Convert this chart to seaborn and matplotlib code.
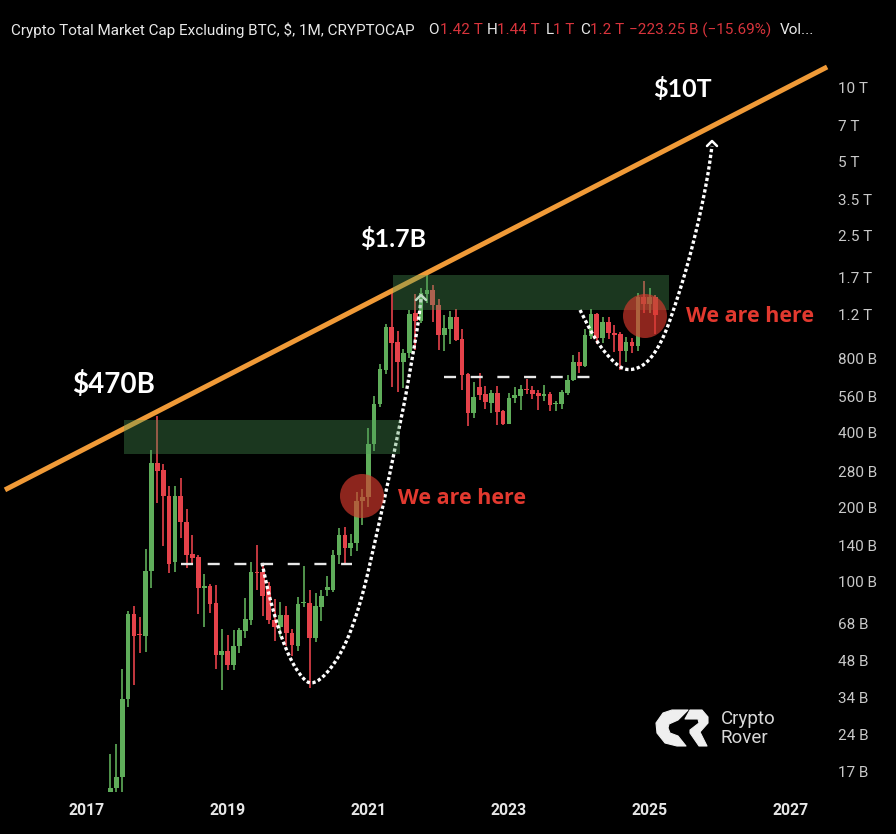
import numpy as np
import pandas as pd
import seaborn as sns
import matplotlib
matplotlib.use("Agg")
import matplotlib.pyplot as plt
from matplotlib.patches import Circle, Polygon
from matplotlib.transforms import Affine2D

# monthly candles, $ billions, month index 0 = Jan 2017
first_month = 4
opens = [14.05,14.6,16.2,33.4,74,61.3,60.3,110,302,282,222,120.5,222,175,129,126,94,96,82,50.5,52.4,46,55,63.1,70,109.3,109,95.7,70,65.8,73.4,61.9,55,81.7,81.7,59,79,92.8,92.5,128,154,137,142.7,211,220,359,522,720,1070,927,772,838,1215,1130,1455,1505,1315,990,1052,1180,957,688,482,615,572,530,577,490,433,553,563,603,595,577,562,572,522,524,577,651,776,745,987,1205,966,1120,1015,1000,860,935,897,1410,1330,1420]
highs = [20,22,44.2,76.3,79.7,71.7,135,340,467,298,243,243,262,196,154.5,128,107,97.7,96.8,64.1,60.8,63.7,64.7,85.6,119.5,141,118,100,85,82.7,79.7,64.3,86.4,115.7,92.5,90,92.5,105,134,165,166,156,231,237,418,565,757,1100,1486,1031,870,1254,1455,1533,1730,1590,1385,1195,1240,1262,1050,695,640,697,618,595,618,494,577,612,622,660,618,595,622,585,537,595,685,823,845,1052,1262,1215,1180,1180,1090,1025,975,970,1470,1640,1540,1440]
lows = [14.05,14.05,14.05,31,38.2,51.6,52,94,207.5,139,108,109,150,113.5,117,73.7,65.8,74.5,44.3,36.6,43.8,43.9,51.3,59,67,92.8,72.9,67.2,57.3,59.8,54.7,50,52.5,79,37,56.8,69.4,87.7,91,117.5,118,127,133,170,201,337,510,690,612,585,608,802,864,1108,1335,1120,864,856,917,940,597,426,460,542,497,482,429,429,433,527,494,576,548,494,537,490,490,497,567,649,697,735,957,917,925,957,848,720,772,842,860,1215,1215,1000]
closes = [14.6,16.2,33.6,74,60.3,60.6,110,303,281,222,117.5,222,174,128,125,94,96,81.4,50.5,52.4,46,54.9,63.5,70.7,109,107.9,87.7,70,65.8,73,61.9,55.4,81.4,82.7,59,79.7,87.7,95,128,154,137,143.5,212,220,360,522,722,1070,925,772,840,1208,1130,1465,1510,1310,990,1060,1180,948,685,482,560,570,533,577,486,433,555,567,600,597,575,562,572,519,530,583,653,776,745,992,1205,970,1120,1010,994,858,932,897,1420,1330,1410,1200]

year_ticks = [0,24,48,72,96,120]
year_labels = ["2017","2019","2021","2023","2025","2027"]
price_ticks = [10000,7000,5000,3500,2500,1700,1200,800,560,400,280,200,140,100,68,48,34,24,17]
price_labels = ["10 T","7 T","5 T","3.5 T","2.5 T","1.7 T","1.2 T","800 B","560 B","400 B","280 B","200 B","140 B","100 B","68 B","48 B","34 B","24 B","17 B"]

trend_x = [-14.0, 126.3]
trend_y = [235, 12050]
zone_a = dict(x=(6.3, 53.4), y=(327, 450))
zone_b = dict(x=(52.2, 99.3), y=(1254, 1730))
neck_a = dict(x=[16, 45.2], y=[118, 118])
neck_b = dict(x=[60.9, 85.8], y=[675, 675])

df = pd.DataFrame({"month": np.arange(len(opens)) + first_month, "open": opens, "high": highs, "low": lows, "close": closes})
df["up"] = df["close"] >= df["open"]

sns.set_theme(style="dark")
GREEN, RED = "#5fad5a", "#e5424a"
fig = plt.figure(figsize=(8.96, 8.34), dpi=100, facecolor="black")
ax = fig.add_axes([0, 0, 1, 1], facecolor="black")
ax.set_yscale("log")
ax.grid(False)
for s in ax.spines.values():
    s.set_visible(False)

# candles
cols = np.where(df["up"], GREEN, RED)
ax.vlines(df["month"], df["low"], df["high"], colors=cols, lw=1.2, zorder=2)
bot = df[["open", "close"]].min(axis=1)
top = df[["open", "close"]].max(axis=1)
ax.bar(df["month"], top - bot, bottom=bot, width=0.8, color=cols, lw=0, zorder=3)

# trend line, zones, necklines
sns.lineplot(x=trend_x, y=trend_y, color="#f09a37", lw=3.6, ax=ax, zorder=4, solid_capstyle="butt")
for z in (zone_a, zone_b):
    ax.fill_between(z["x"], z["y"][0], z["y"][1], color="#4c9a58", alpha=0.36, lw=0, zorder=6)
for n in (neck_a, neck_b):
    sns.lineplot(x=n["x"], y=n["y"], color="#e8e8e8", lw=1.7, ax=ax, zorder=7, linestyle=(0, (5.1, 6.2)))
ax.set_xlim(-14.846, 138.05)
ax.set_ylim(9.54, 22480)

ax.yaxis.tick_right()
ax.set_yticks(price_ticks, price_labels)
ax.minorticks_off()
ax.set_xticks(year_ticks, year_labels)
ax.tick_params(axis="y", length=0, pad=-41.8, labelsize=11, labelcolor="#c9c9c9")
ax.tick_params(axis="x", length=0, pad=-22, labelsize=11.3, labelcolor="#e6e6e6")
for t in ax.get_yticklabels():
    t.set_family("Roboto")
for t in ax.get_xticklabels():
    t.set_family("Roboto"); t.set_fontweight("bold")

# free-hand drawing in picture pixels
px = Affine2D().scale(1, -1).translate(0, 834)

def smooth(pts, n=3):
    p = np.array(pts, float)
    for _ in range(n):
        q = 0.75 * p[:-1] + 0.25 * p[1:]
        r = 0.25 * p[:-1] + 0.75 * p[1:]
        m = np.empty((2 * len(q), 2))
        m[0::2], m[1::2] = q, r
        p = np.vstack([p[0], m, p[-1]])
    return p

curve_a = [(262,563),(270,600),(283,643),(297,672),(313,688),(340,658),(360,607),(377,533),(390,473),(397,438),(405,400),(411,365),(418,325),(421,299)]
curve_b = [(580,310),(597,343),(617,366),(630,371),(647,364),(663,340),(677,300),(689,260),(700,215),(708,175),(712,146)]
for c in (curve_a, curve_b):
    s = smooth(c)
    ax.plot(s[:, 0], s[:, 1], transform=px, color="white", lw=2.4, ls=(0, (1.0, 0.75)), zorder=5, solid_capstyle="butt")
for tx, ty in ((421, 295), (712, 141)):
    ax.plot([tx-5, tx, tx+5], [ty+5, ty, ty+5], transform=px, color="white", lw=1.8, zorder=5)

for cx, cy in ((362, 496), (645, 316)):
    ax.add_patch(Circle((cx, cy), 22, transform=px, fc="#d83a2e", ec="none", alpha=0.65, zorder=8))

big = dict(transform=px, family="Lato", fontweight="bold", va="center", ha="left", zorder=9, color="white")
ax.text(72, 385, "$470B", fontsize=20, **big)
ax.text(360, 239, "$1.7B", fontsize=18, **big)
ax.text(653, 89, "$10T", fontsize=18, **big)
mid = dict(transform=px, family="Open Sans", fontweight="bold", va="center", ha="left", zorder=9, color="#e2392f", fontsize=15.5)
ax.text(398, 498, "We are here", **mid)
ax.text(686, 316, "We are here", **mid)

# header, one piece per colour
WHITE, HRED = "#e8e8e8", "#d8343c"
header = [(11,"Crypto Total Market Cap Excluding BTC, $, 1M, CRYPTOCAP",WHITE),(428,"O",WHITE),(440,"1.42 T",HRED),
          (487,"H",WHITE),(497,"1.44 T",HRED),(546,"L",WHITE),(553,"1 T",HRED),(580,"C",WHITE),(590,"1.2 T",HRED),
          (629,"\u2212223.25 B (\u221215.69%)",HRED),(780,"Vol...",WHITE)]
for x, s, c in header:
    ax.text(x, 30, s, transform=px, color=c, fontsize=11, family="Roboto", va="center", ha="left", zorder=9)

# logo
LOGO = "#efefef"
logo_c = [(688,710),(678,720),(669,724),(668,728),(670,733),(678,736),(686,746),(677,746),(665,743),(657,733),(656,723),(663,713),(672,710)]
logo_r = [(690,710),(702,710),(708,717),(708,723),(700,732),(707,746),(699,746),(690,733),(690,730),(699,723),(698,719),(692,719),(685,719)]
for shape in (logo_c, logo_r):
    ax.add_patch(Polygon(shape, transform=px, fc=LOGO, ec=LOGO, lw=0.8, joinstyle="round", zorder=9))
ax.text(721, 719, "Crypto", transform=px, color="#d8d8d8", fontsize=13.5, family="Roboto", va="center", zorder=9)
ax.text(721, 738, "Rover", transform=px, color="#d8d8d8", fontsize=13.5, family="Roboto", va="center", zorder=9)

fig.savefig("out.png", dpi=100, facecolor="black")
